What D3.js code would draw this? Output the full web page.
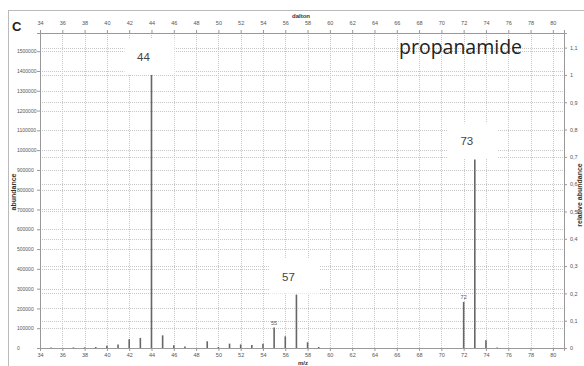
<!DOCTYPE html>
<html><head><meta charset="utf-8">
<script src="https://cdn.jsdelivr.net/npm/d3@7"></script>
<style>html,body{margin:0;padding:0;background:#fff;}svg{display:block;}</style>
</head><body>
<script>
const mz =        [35,37,38,39,40,41,42,43,44,45,46,47,49,50,51,52,53,54,55,56,57,58,59,72,73,74,75];
const abundance = [2000,3000,3000,5000,12000,18000,44000,51000,1380000,64000,14000,7000,34000,5000,22000,18000,15000,22000,103000,59000,270000,29000,5000,233000,953000,39000,3000];
const bigLabels = [44,57,73];
const smallLabels = [55,72];
const xTicks = d3.range(34,81,2);
const yTicks = d3.range(0,1500001,100000);
const relTicks = [0,0.1,0.2,0.3,0.4,0.5,0.6,0.7,0.8,0.9,1,1.1];
const basePeak = 1380000;
const yMax = 1592000;

const W=584,H=366;
const L=40,R=564,T=33,B=348;
const svg=d3.select("body").append("svg").attr("width",W).attr("height",H);
svg.append("rect").attr("x",8.5).attr("y",10.5).attr("width",W).attr("height",H).attr("fill","none").attr("stroke","#bbb");

const x=d3.scaleLinear().domain([34,81]).range([L,R]);
const y=d3.scaleLinear().domain([0,yMax]).range([B,T]);
const yr=d3.scaleLinear().domain([0,yMax/basePeak]).range([B,T]);

const grid=svg.append("g").attr("stroke","#c8c8c8").attr("stroke-dasharray","1,1").attr("stroke-width",1);
yTicks.forEach(v=>grid.append("line").attr("x1",L).attr("x2",R).attr("y1",Math.round(y(v))+0.5).attr("y2",Math.round(y(v))+0.5));
relTicks.forEach(v=>grid.append("line").attr("x1",L).attr("x2",R).attr("y1",Math.round(yr(v))+0.5).attr("y2",Math.round(yr(v))+0.5));
xTicks.forEach(v=>grid.append("line").attr("y1",T).attr("y2",B).attr("x1",Math.round(x(v))+0.5).attr("x2",Math.round(x(v))+0.5));

// white label boxes
const boxW=46, boxH=36;
bigLabels.forEach(m=>{
  const v=abundance[mz.indexOf(m)];
  const top=y(v);
  svg.append("rect").attr("x",x(m)-boxW/2-4).attr("y",top-boxH).attr("width",boxW+4).attr("height",boxH-1).attr("fill","#fff");
});

// axes
const fontF="'Liberation Sans', Arial, sans-serif";
const ax=(g)=>{g.selectAll("text").attr("font-family",fontF).attr("font-size",5.5).attr("fill","#555");g.selectAll("path,line").attr("stroke","#999");};
svg.append("g").attr("transform",`translate(0,${B})`).call(d3.axisBottom(x).tickValues(xTicks).tickSize(3).tickPadding(2).tickFormat(d3.format("d"))).call(ax);
svg.append("g").attr("transform",`translate(0,${T})`).call(d3.axisTop(x).tickValues(xTicks).tickSize(3).tickPadding(5).tickFormat(d3.format("d"))).call(ax);
const ga=svg.append("g").attr("transform",`translate(${L},0)`).call(d3.axisLeft(y).tickValues(yTicks).tickSize(3).tickFormat(d3.format("d"))).call(ax);
ga.selectAll("text").attr("text-anchor","start").attr("x",-23).attr("font-size",5);
svg.append("g").attr("transform",`translate(${R},0)`).call(d3.axisRight(yr).tickValues(relTicks).tickSize(3).tickPadding(3).tickFormat(d=>d3.format(".1~f")(d).replace(".",","))).call(ax);

// bars
svg.append("g").selectAll("line").data(mz).join("line")
  .attr("x1",d=>x(d)).attr("x2",d=>x(d))
  .attr("y1",y(0)).attr("y2",(d,i)=>y(abundance[i]))
  .attr("stroke","#666").attr("stroke-width",1.6);

bigLabels.forEach(m=>{
  const v=abundance[mz.indexOf(m)];
  svg.append("text").attr("x",x(m)-8).attr("y",y(v)-14).attr("text-anchor","middle")
    .attr("font-family",fontF).attr("font-size",11.5).attr("fill","#444").text(m);
});
smallLabels.forEach(m=>{
  const v=abundance[mz.indexOf(m)];
  svg.append("text").attr("x",x(m)).attr("y",y(v)-3).attr("text-anchor","middle")
    .attr("font-family",fontF).attr("font-size",5.5).attr("fill","#555").text(m);
});

svg.append("text").attr("x",12).attr("y",31).attr("font-family",fontF).attr("font-weight","bold").attr("font-size",13).attr("fill","#222").text("C");
svg.append("text").attr("x",301).attr("y",18).attr("text-anchor","middle").attr("font-family",fontF).attr("font-weight","bold").attr("font-size",6).attr("fill","#333").text("dalton");
svg.append("text").attr("x",303).attr("y",364.5).attr("text-anchor","middle").attr("font-family",fontF).attr("font-weight","bold").attr("font-size",6).attr("fill","#333").text("m/z");
svg.append("text").attr("transform","translate(16,192) rotate(-90)").attr("text-anchor","middle").attr("font-family",fontF).attr("font-weight","bold").attr("font-size",7).attr("fill","#333").text("abundance");
svg.append("text").attr("transform","translate(582,195) rotate(-90)").attr("text-anchor","middle").attr("font-family",fontF).attr("font-weight","bold").attr("font-size",7).attr("fill","#333").text("relative abundance");
svg.append("text").attr("x",399).attr("y",54).attr("font-family","'Open Sans', sans-serif").attr("font-size",19.5).attr("fill","#222").text("propanamide");
</script>
</body></html>
